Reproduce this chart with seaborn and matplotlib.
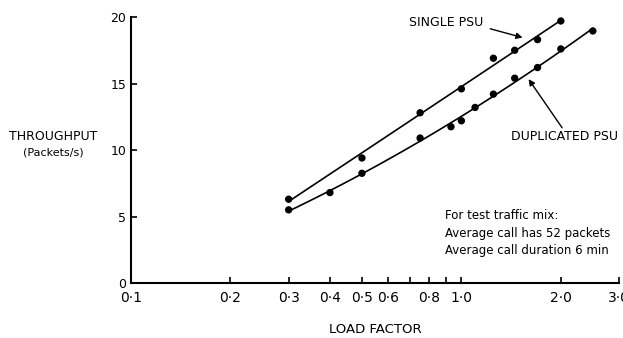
import numpy as np
import pandas as pd
import matplotlib
matplotlib.use("Agg")
import matplotlib.pyplot as plt
import seaborn as sns

# load factor vs throughput
single_x = [0.3, 0.5, 0.75, 1.0, 1.25, 1.45, 1.7, 2.0]
single_y = [6.3, 9.4, 12.8, 14.6, 16.9, 17.5, 18.3, 19.7]
dup_x = [0.3, 0.4, 0.5, 0.75, 0.93, 1.0, 1.1, 1.25, 1.45, 1.7, 2.0, 2.5]
dup_y = [5.5, 6.8, 8.25, 10.9, 11.75, 12.2, 13.2, 14.2, 15.4, 16.2, 17.6, 18.95]

x_ticks = [0.1, 0.2, 0.3, 0.4, 0.5, 0.6, 0.7, 0.8, 0.9, 1.0, 2.0, 3.0]
x_labels = ["0·1", "0·2", "0·3", "0·4", "0·5", "0·6", "", "0·8", "", "1·0", "2·0", "3·0"]
y_ticks = [0, 5, 10, 15, 20]

sns.set_style("ticks")
plt.rcParams['font.family'] = ['Liberation Sans Narrow', 'DejaVu Sans']
plt.rcParams['text.color'] = 'black'
plt.rcParams['axes.labelcolor'] = 'black'

fig = plt.figure(figsize=(6.23, 3.38), dpi=100)
ax = fig.add_axes([0.2103, 0.1627, 0.7833, 0.787])
ax.set_xscale("log")


def fitted(xs, ys):
    # smooth curve through the points (quadratic in log x)
    lx = np.log10(xs)
    c = np.polyfit(lx, ys, 2)
    gx = np.linspace(lx.min(), lx.max(), 100)
    return pd.DataFrame({"x": 10 ** gx, "y": np.polyval(c, gx)})


for xs, ys in [(single_x, single_y), (dup_x, dup_y)]:
    curve = fitted(np.array(xs), np.array(ys))
    sns.lineplot(data=curve, x="x", y="y", ax=ax, color="black", lw=1.2)
    pts = pd.DataFrame({"x": xs, "y": ys})
    sns.scatterplot(data=pts, x="x", y="y", ax=ax, color="black", s=28,
                    edgecolor="none", zorder=3)

ax.set_xlim(0.1, 3.0)
ax.set_ylim(0, 20)
ax.set_xticks(x_ticks)
ax.set_xticklabels(x_labels)
ax.xaxis.set_minor_locator(matplotlib.ticker.NullLocator())
ax.set_yticks(y_ticks)
ax.tick_params(direction="in", length=4, width=1.2, labelsize=9, colors="black")
ax.tick_params(axis="x", labelsize=10, pad=6)
for s in ["left", "bottom"]:
    ax.spines[s].set_linewidth(1.5)
    ax.spines[s].set_color("black")
sns.despine(ax=ax)

ax.set_xlabel("LOAD FACTOR", fontsize=9.5)
ax.xaxis.set_label_coords(0.5, -0.15)
ax.set_ylabel("")
fig.text(0.085, 0.595, "THROUGHPUT", ha="center", va="center", fontsize=9)
fig.text(0.085, 0.55, "(Packets/s)", ha="center", va="center", fontsize=8)

ax.text(0.90, 19.55, "SINGLE PSU", ha="center", va="center", fontsize=9)
ax.annotate("", xy=(1.56, 18.4), xytext=(1.2, 19.17),
            arrowprops=dict(arrowstyle="-|>", color="black", lw=1.0,
                            mutation_scale=9))
ax.text(2.05, 11.05, "DUPLICATED PSU", ha="center", va="center", fontsize=9)
ax.annotate("", xy=(1.58, 15.5), xytext=(2.04, 11.5),
            arrowprops=dict(arrowstyle="-|>", color="black", lw=1.0,
                            mutation_scale=9))

ax.text(0.894, 5.55, "For test traffic mix:\nAverage call has 52 packets\nAverage call duration 6 min",
        ha="left", va="top", fontsize=8.5, linespacing=1.45)

fig.savefig("out.png", dpi=100, facecolor="white")
